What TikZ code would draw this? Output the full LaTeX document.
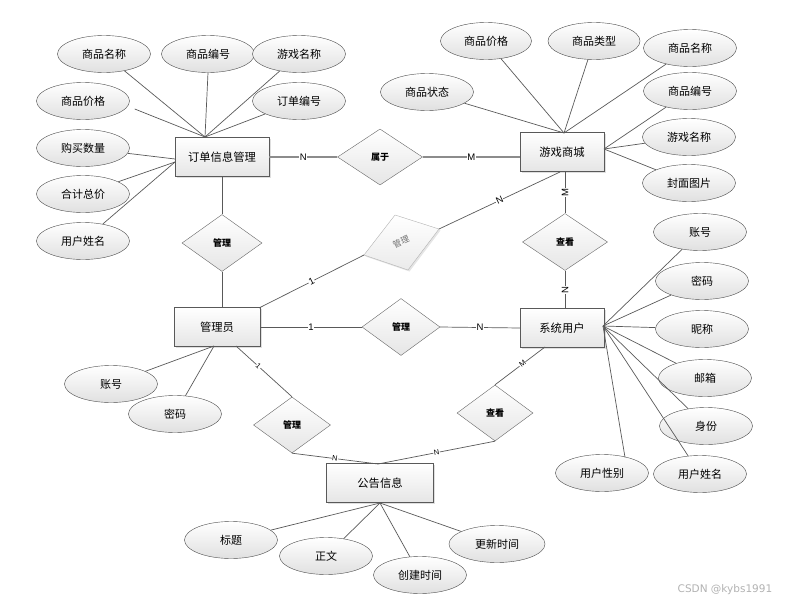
\documentclass[tikz,border=0pt]{standalone}
\usepackage{fontspec}
\setmainfont{Liberation Sans}
\newfontfamily\cjk{Noto Sans CJK SC}
\newfontfamily\wmfont{DejaVu Sans}
\usetikzlibrary{shapes.geometric,shadows}
\begin{document}
\begin{tikzpicture}[x=1pt,y=-1pt,
  ent/.style={draw=black!65,rectangle,minimum width=94pt,minimum height=39pt,inner sep=0pt,
    top color=white,bottom color=black!10,font=\cjk\fontsize{11.3pt}{13pt}\selectfont,
    drop shadow={opacity=0.25,shadow xshift=1.5pt,shadow yshift=-1.5pt}},
  attr/.style={draw=black!70,ellipse,minimum width=93pt,minimum height=37pt,inner sep=0pt,
    top color=white,bottom color=black!12,font=\cjk\fontsize{11pt}{13pt}\selectfont},
  rel/.style={draw=black!60,diamond,aspect=1.4,minimum width=80pt,minimum height=57pt,inner sep=0pt,
    top color=white,bottom color=black!10,font=\cjk\bfseries\fontsize{9pt}{10pt}\selectfont},
  ln/.style={draw=black!65,line width=0.7pt},
  lnh/.style={draw=black!45,line width=1.6pt},
  card/.style={font=\fontsize{9.5pt}{10pt}\selectfont,fill=white,inner sep=0.5pt},
  cards/.style={card,font=\fontsize{7.5pt}{8pt}\selectfont},
]
\useasboundingbox (0,0) rectangle (804,605);
% entities
\node[ent] (ord) at (222,157) {订单信息管理};
\node[ent,minimum width=84pt] (shop) at (562,152) {游戏商城};
\node[ent,minimum width=86pt] (adm) at (217,327) {管理员};
\node[ent,minimum width=84pt] (usr) at (562,328) {系统用户};
\node[ent,minimum width=107pt] (ann) at (380,483) {公告信息};
% relations
\node[rel,minimum width=85pt,minimum height=56pt] (sy) at (380,157) {属于};
\node[rel] (gl1) at (222,243) {管理};
\node[rel,minimum width=85pt] (ck1) at (565,242) {查看};
\node[rel,minimum width=78pt] (gl2) at (401,327) {管理};
\node[rel,minimum width=77pt,minimum height=56pt] (gl3) at (292,425) {管理};
\node[rel,minimum width=76pt,minimum height=56pt] (ck2) at (495,413) {查看};
% slanted diamond
\coordinate (rdT) at (395,215);
\coordinate (rdR) at (439,229);
\coordinate (rdB) at (408,270);
\coordinate (rdL) at (364,255);
\fill[black!20,opacity=0.5] ([shift={(1.5,1.5)}]rdT) -- ([shift={(1.5,1.5)}]rdR) -- ([shift={(1.5,1.5)}]rdB) -- ([shift={(1.5,1.5)}]rdL) -- cycle;
\shade[top color=white,bottom color=black!8,draw=black!30] (rdT) -- (rdR) -- (rdB) -- (rdL) -- cycle;
\node[font=\cjk\fontsize{8.5pt}{10pt}\selectfont,text=black!55,rotate=24,inner sep=0pt] (rdC) at (401,242) {管理};
% attributes of order
\node[attr] (o1) at (104,54) {商品名称};
\node[attr] (o2) at (208,54) {商品编号};
\node[attr] (o3) at (299,54) {游戏名称};
\node[attr] (o4) at (299,101) {订单编号};
\node[attr] (o5) at (83,101) {商品价格};
\node[attr] (o6) at (83,148) {购买数量};
\node[attr] (o7) at (83,194) {合计总价};
\node[attr] (o8) at (83,241) {用户姓名};
\coordinate (oT) at (205,137);
\coordinate (oL) at (175,159);
\coordinate (oL2) at (175,162);
\draw[ln] (o1) -- (oT);
\draw[ln] (o2.south) -- (oT);
\draw[ln] (o3) -- (oT);
\draw[ln] (o4) -- (oT);
\draw[ln] (o5.east) ++(5,8) -- (oT);
\draw[ln] (o6) -- (oL);
\draw[ln] (o7) -- (oL2);
\draw[ln] (o8) -- (oL2);
% attributes of shop
\node[attr,minimum width=91pt] (s1) at (486,41) {商品价格};
\node[attr,minimum width=92pt] (s2) at (594,41) {商品类型};
\node[attr] (s3) at (690,48) {商品名称};
\node[attr] (s4) at (427,92) {商品状态};
\node[attr] (s5) at (690,91) {商品编号};
\node[attr] (s6) at (689,137) {游戏名称};
\node[attr] (s7) at (689,183) {封面图片};
\coordinate (sT) at (564,133);
\coordinate (sR) at (604,149);
\draw[ln] (s1) -- (sT);
\draw[ln] (s2) -- (sT);
\draw[ln] (s3) -- (sT);
\draw[ln] (s4) -- (sT);
\draw[ln] (s5) -- (sR);
\draw[ln] (s6) -- (sR);
\draw[ln] (s7) -- (sR);
% attributes of user
\node[attr] (u1) at (700,232) {账号};
\node[attr] (u2) at (702,281) {密码};
\node[attr] (u3) at (702,329) {昵称};
\node[attr] (u4) at (705,378) {邮箱};
\node[attr] (u5) at (706,426) {身份};
\node[attr] (u6) at (700,474) {用户姓名};
\node[attr] (u7) at (602,473) {用户性别};
\coordinate (uR) at (603,326);
\draw[ln] (u1) -- (uR);
\draw[ln] (u2) -- (uR);
\draw[ln] (u3) -- (uR);
\draw[ln] (u4) -- (uR);
\draw[ln] (u5) -- (uR);
\draw[ln] (u6) -- (uR);
\draw[ln] (u7.north) ++(23,3) -- (uR);
% attributes of admin
\node[attr] (a1) at (111,384) {账号};
\node[attr] (a2) at (175,414) {密码};
\coordinate (aB) at (214,346);
\draw[ln] (a1) -- (aB);
\draw[ln] (a2) -- (aB);
% attributes of announcement
\node[attr] (n1) at (231,540) {标题};
\node[attr] (n2) at (326,556) {正文};
\node[attr] (n3) at (420,575) {创建时间};
\node[attr,minimum width=96pt] (n4) at (497,544) {更新时间};
\coordinate (nB) at (380,503);
\draw[ln] (n1) -- (nB);
\draw[ln] (n2) -- (nB);
\draw[ln] (n3) -- (nB);
\draw[ln] (n4) -- (nB);
% relationships
\coordinate (shopL) at (520,157);
\draw[lnh] (ord.east) -- node[card] {N} (sy.west);
\draw[lnh] (sy.east) -- node[card] {M} (shopL);
\draw[ln] (ord.south) -- (gl1.north);
\draw[ln] (gl1.south) -- (adm.north -| gl1.south);
\coordinate (admTR) at (259,308);
\coordinate (shopB) at (560,172);
\draw[ln] (admTR) -- node[card,sloped] {1} (rdL);
\draw[ln] (rdR) -- node[card,sloped,pos=0.5] {N} (shopB);
\coordinate (shopB2) at (565,172);
\coordinate (usrT) at (565,309);
\draw[ln] (shopB2) -- node[card,rotate=90] {M} (ck1.north);
\draw[ln] (ck1.south) -- node[card,rotate=90] {N} (usrT);
\coordinate (admR) at (260,327);
\draw[ln] (admR) -- node[card] {1} (gl2.west);
\draw[ln] (gl2.east) -- node[card] {N} (usr.west);
\coordinate (admB) at (236,346);
\draw[ln] (admB) -- node[cards,sloped,pos=0.4] {1} (gl3.north);
\coordinate (annT) at (378,464);
\draw[ln] (gl3.south) -- node[cards,sloped,pos=0.5] {N} (annT);
\draw[ln] (annT) -- node[cards,sloped,pos=0.5] {N} (ck2.south);
\coordinate (usrB) at (545,347);
\draw[ln] (ck2.north) -- node[cards,sloped,pos=0.55] {M} (usrB);
% watermark
\node[font=\wmfont\fontsize{10.5pt}{12pt}\selectfont,text=black!30] (wm) at (725,590) {CSDN @kybs1991};
\end{tikzpicture}
\end{document}
